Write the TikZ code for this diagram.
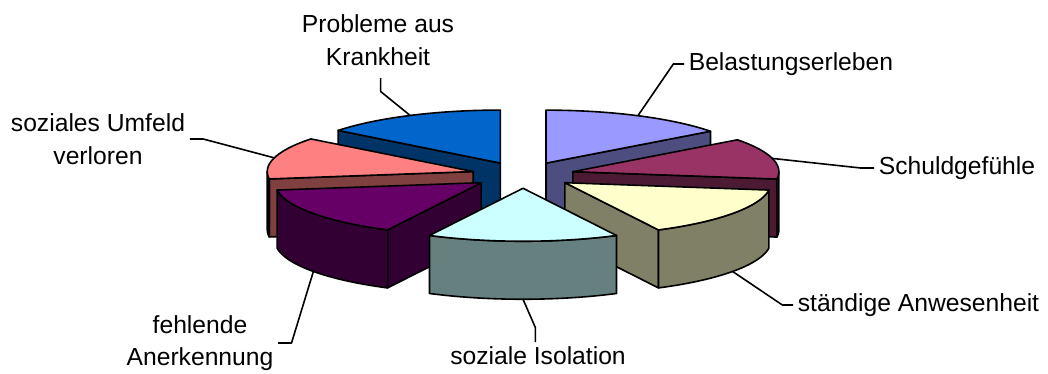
\documentclass[tikz,border=0pt]{standalone}
\usepackage{fontspec}
\setmainfont{Liberation Sans}
\definecolor{belT}{HTML}{9999FF}\definecolor{belS}{HTML}{4D4D80}
\definecolor{schT}{HTML}{993366}\definecolor{schS}{HTML}{4D1A33}
\definecolor{anwT}{HTML}{FFFFCC}\definecolor{anwS}{HTML}{808066}
\definecolor{isoT}{HTML}{CCFFFF}\definecolor{isoS}{HTML}{668080}
\definecolor{aneT}{HTML}{660066}\definecolor{aneS}{HTML}{330033}
\definecolor{umfT}{HTML}{FF8080}\definecolor{umfS}{HTML}{804040}
\definecolor{kraT}{HTML}{0066CC}\definecolor{kraS}{HTML}{003366}
\begin{document}
\begin{tikzpicture}
  [x=0.75pt,y=-0.75pt,line join=round,line width=1.2pt,
   lbl/.style={align=center,inner sep=3pt,font=\fontsize{18.5}{24.5}\selectfont}]
  \useasboundingbox (0,0) rectangle (1048,374);
  \def\cx{523}\def\cy{175}\def\rx{206}\def\ry{53}\def\hz{58}\def\xf{0.25}
  % slices, back to front
  \foreach \s/\e/\tc/\sc/\nm/\dz in {0/53/belT/belS/bel/0,308/360/kraT/kraS/kra/0,
      53/98/schT/schS/sch/0,262/308/umfT/umfS/umf/0,98/153/anwT/anwS/anw/58,
      207/262/aneT/aneS/ane/58,153/207/isoT/isoS/iso/58}{
    \pgfmathsetmacro\md{(\s+\e)/2}
    \pgfmathsetmacro\ox{\cx+\xf*\rx*sin(\md)}
    \pgfmathsetmacro\oy{\cy-\xf*\ry*cos(\md)}
    \pgfmathsetmacro\ca{max(\s,90)}
    \pgfmathsetmacro\cb{min(\e,270)}
    \ifnum\e<180
      \filldraw[fill=\sc] (\ox,\oy) -- ({\ox+\rx*sin(\e)},{\oy-\ry*cos(\e)})
        -- ++(0,\hz) -- (\ox,{\oy+\hz}) -- cycle;
    \fi
    \ifnum\s>180
      \filldraw[fill=\sc] (\ox,\oy) -- ({\ox+\rx*sin(\s)},{\oy-\ry*cos(\s)})
        -- ++(0,\hz) -- (\ox,{\oy+\hz}) -- cycle;
    \fi
    \ifdim\ca pt<\cb pt
      \filldraw[fill=\sc] plot[domain=\ca:\cb,samples=30] ({\ox+\rx*sin(\x)},{\oy-\ry*cos(\x)})
        -- plot[domain=\cb:\ca,samples=30] ({\ox+\rx*sin(\x)},{\oy+\hz-\ry*cos(\x)}) -- cycle;
    \fi
    \filldraw[fill=\tc] (\ox,\oy) -- plot[domain=\s:\e,samples=40]
      ({\ox+\rx*sin(\x)},{\oy-\ry*cos(\x)}) -- cycle;
    \coordinate (\nm) at ({\ox+\rx*sin(\md)},{\oy-\ry*cos(\md)+\dz});
  }
  % labels
  \node[lbl] (krank) at (378,40) {Probleme aus\\Krankheit};
  \node[lbl,anchor=west] (belast) at (684,64) {Belastungserleben};
  \node[lbl,anchor=west] (schuld) at (874,168) {Schuldgefühle};
  \node[lbl,anchor=west] (anwes) at (793,305) {ständige Anwesenheit};
  \node[lbl] (isol) at (538,356) {soziale Isolation};
  \node[lbl] (anerk) at (200,343) {fehlende\\Anerkennung};
  \node[lbl] (umfeld) at (98,139) {soziales Umfeld\\verloren};
  % leaders
  \draw (kra) -- ([xshift=2pt,yshift=-16pt]krank.south) -- ([xshift=2pt,yshift=-6pt]krank.south);
  \draw (bel) -- ([xshift=-8pt]belast.west) -- (belast.west);
  \draw (sch) -- ([xshift=-10pt]schuld.west) -- (schuld.west);
  \draw (anw) -- ([xshift=-8pt]anwes.west) -- (anwes.west);
  \draw (iso) -- ([xshift=-2pt,yshift=11pt]isol.north) -- ([xshift=-2pt]isol.north);
  \draw (ane) -- ([xshift=10pt]anerk.east) -- (anerk.east);
  \draw (umf) -- ([xshift=10pt]umfeld.east) -- (umfeld.east);
\end{tikzpicture}
\end{document}
